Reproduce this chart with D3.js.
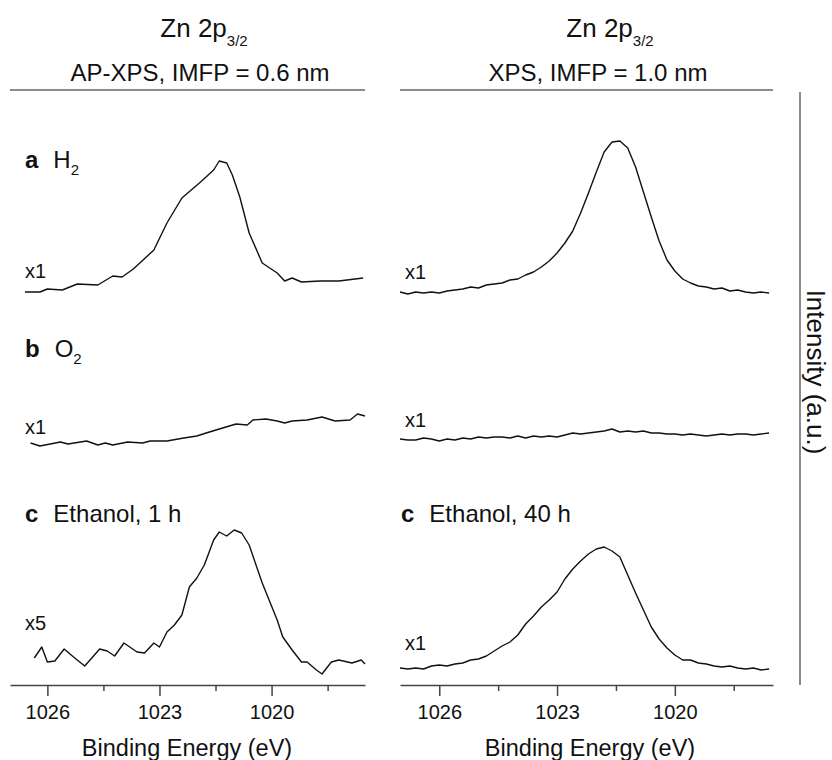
<!DOCTYPE html>
<html>
<head>
<meta charset="utf-8">
<script src="https://cdn.jsdelivr.net/npm/d3@7"></script>
<style>
  body { margin: 0; background: #fff; }
  text { font-family: "Liberation Sans", Arial, Helvetica, sans-serif; fill: #111; }
</style>
</head>
<body>
<div id="chart"></div>
<script>
// tick values (binding energy, eV)
var majorTicks = [1026, 1023, 1020];
var minorTicks = [1024.5, 1021.5, 1018.5];

// panel titles
var panelTitles = ["Zn 2p", "Zn 2p"];
var panelSubs = ["AP-XPS, IMFP = 0.6 nm", "XPS, IMFP = 1.0 nm"];
var rowLetters = ["a", "b", "c"];
var rowNamesLeft = ["H", "O", "Ethanol, 1 h"];
var rowNamesRight = ["", "", "Ethanol, 40 h"];
var scaleLeft = ["x1", "x1", "x5"];
var scaleRight = ["x1", "x1", "x1"];

// AP-XPS spectra (left) - energies and intensities (a.u., offset per row)
var apH2Energy = [1026.6, 1026.2, 1026.0, 1025.6, 1025.2, 1024.65, 1024.25, 1024.0, 1023.7, 1023.15, 1022.8, 1022.4, 1021.9, 1021.55, 1021.4, 1021.2, 1021.05, 1020.85, 1020.6, 1020.25, 1019.85, 1019.65, 1019.45, 1019.2, 1018.7, 1018.2, 1017.55];
var apH2Int = [393, 393, 396, 395, 401, 400, 409, 408, 416, 435, 462, 487, 503, 515, 524, 522, 510, 488, 452, 422, 412, 404, 407, 403, 404, 404, 407];

var apO2Energy = [1026.45, 1026.2, 1025.65, 1025.45, 1024.95, 1024.65, 1024.45, 1024.25, 1023.85, 1023.45, 1023.25, 1022.8, 1022.35, 1022.0, 1021.75, 1021.4, 1020.95, 1020.65, 1020.5, 1020.15, 1019.85, 1019.65, 1019.45, 1019.05, 1018.65, 1018.3, 1017.9, 1017.7, 1017.5];
var apO2Int = [242, 239, 243, 241, 244, 240, 242, 240, 243, 242, 244, 244, 247, 249, 252, 256, 261, 260, 265, 266, 264, 262, 264, 265, 268, 264, 265, 271, 269];

var apEtEnergy = [1026.35, 1026.15, 1026.0, 1025.8, 1025.55, 1025.3, 1025.0, 1024.6, 1024.4, 1024.2, 1023.95, 1023.6, 1023.4, 1023.15, 1023.0, 1022.8, 1022.6, 1022.4, 1022.2, 1022.0, 1021.8, 1021.55, 1021.4, 1021.2, 1021.0, 1020.8, 1020.6, 1020.25, 1019.85, 1019.7, 1019.45, 1019.2, 1019.05, 1018.8, 1018.65, 1018.4, 1018.2, 1017.85, 1017.6, 1017.5];
var apEtInt = [27, 38, 23, 24, 36, 28, 19, 36, 34, 29, 42, 33, 32, 42, 38, 53, 60, 70, 98, 107, 120, 145, 153, 149, 155, 152, 140, 102, 65, 48, 35, 23, 23, 15, 11, 23, 25, 22, 25, 21];

// XPS spectra (right), common energy grid
var xpsEnergy = [1027.0, 1026.8, 1026.6, 1026.4, 1026.2, 1026.0, 1025.8, 1025.6, 1025.4, 1025.2, 1025.0, 1024.8, 1024.6, 1024.4, 1024.2, 1024.0, 1023.8, 1023.6, 1023.4, 1023.2, 1023.0, 1022.8, 1022.6, 1022.4, 1022.2, 1022.0, 1021.8, 1021.6, 1021.4, 1021.2, 1021.0, 1020.8, 1020.6, 1020.4, 1020.2, 1020.0, 1019.8, 1019.6, 1019.4, 1019.2, 1019.0, 1018.8, 1018.6, 1018.4, 1018.2, 1018.0, 1017.8, 1017.6];
var xpsH2Int = [393, 391, 393, 392, 393, 392, 394, 395, 396, 398, 397, 400, 401, 402, 405, 406, 410, 413, 418, 424, 432, 442, 454, 472, 492, 513, 533, 543, 544, 537, 518, 493, 468, 444, 425, 414, 406, 402, 399, 398, 396, 397, 394, 395, 393, 392, 393, 392];
var xpsO2Int = [246, 245, 245, 247, 246, 244, 246, 245, 247, 246, 248, 247, 248, 248, 247, 249, 247, 249, 248, 249, 248, 250, 252, 251, 252, 253, 254, 256, 253, 254, 253, 254, 252, 252, 251, 251, 250, 251, 250, 249, 250, 251, 250, 251, 251, 250, 251, 252];
var xpsEtInt = [17, 16, 17, 16, 19, 20, 19, 21, 22, 25, 26, 29, 34, 39, 43, 50, 61, 69, 78, 85, 93, 106, 116, 124, 131, 136, 138, 134, 128, 110, 92, 75, 58, 46, 37, 30, 25, 25, 22, 21, 19, 18, 19, 17, 16, 17, 15, 16];

var width = 832, height = 760;
var axisY = 685, topY = 90;
var panels = [
  {x0: 10, x1: 365, titleX: 204, subX: 200, labX: 187,
   series: [[apH2Energy, apH2Int], [apO2Energy, apO2Int], [apEtEnergy, apEtInt]]},
  {x0: 400, x1: 773, titleX: 610, subX: 598, labX: 590,
   series: [[xpsEnergy, xpsH2Int], [xpsEnergy, xpsO2Int], [xpsEnergy, xpsEtInt]]}
];

var svg = d3.select("#chart")
  .append("svg")
    .attr("width", width)
    .attr("height", height);

var y = d3.scaleLinear()
  .domain([0, 595])
  .range([axisY, topY]);

panels.forEach(function(p, i) {
  var x = d3.scaleLinear()
    .domain([1027, 1017.5])
    .range([p.x0, p.x1]);

  // top rule
  svg.append("line")
    .attr("x1", p.x0).attr("x2", p.x1)
    .attr("y1", topY).attr("y2", topY)
    .attr("stroke", "#666").attr("stroke-width", 1.5);

  // title
  var t = svg.append("text")
    .attr("x", p.titleX).attr("y", 37)
    .attr("text-anchor", "middle")
    .style("font-size", "26px");
  t.append("tspan").text(panelTitles[i]);
  t.append("tspan").attr("dy", 9).style("font-size", "15px").text("3/2");

  svg.append("text")
    .attr("x", p.subX).attr("y", 81)
    .attr("text-anchor", "middle")
    .style("font-size", "24px")
    .text(panelSubs[i]);

  // axis with major + minor ticks
  var gx = svg.append("g")
    .attr("transform", "translate(0," + axisY + ")")
    .call(d3.axisBottom(x).tickValues(majorTicks).tickSize(11).tickSizeOuter(0).tickPadding(9)
      .tickFormat(d3.format("d")));
  gx.select(".domain").attr("stroke", "#444").attr("stroke-width", 1.5);
  gx.selectAll(".tick line").attr("stroke", "#444").attr("stroke-width", 1.5);
  gx.selectAll(".tick text").style("font-size", "20px").attr("fill", "#111");

  var gm = svg.append("g")
    .attr("transform", "translate(0," + axisY + ")")
    .call(d3.axisBottom(x).tickValues(minorTicks).tickSize(6).tickSizeOuter(0).tickFormat(""));
  gm.select(".domain").remove();
  gm.selectAll(".tick line").attr("stroke", "#444").attr("stroke-width", 1.5);

  svg.append("text")
    .attr("x", p.labX).attr("y", 756)
    .attr("text-anchor", "middle")
    .style("font-size", "23.5px")
    .text("Binding Energy (eV)");

  // spectra
  var line = d3.line()
    .x(function(d) { return x(d[0]); })
    .y(function(d) { return y(d[1]); });

  p.series.forEach(function(s) {
    var pts = s[0].map(function(e, k) { return [e, s[1][k]]; });
    svg.append("path")
      .datum(pts)
      .attr("fill", "none")
      .attr("stroke", "#111")
      .attr("stroke-width", 1.4)
      .attr("stroke-linejoin", "round")
      .attr("d", line);
  });
});

// row labels
var rowY = [168, 357, 522];
var scaleY = [278, 434, 630];
var scaleYR = [279, 427, 650];

rowLetters.forEach(function(l, i) {
  var t = svg.append("text")
    .attr("x", 25).attr("y", rowY[i])
    .style("font-size", "24px");
  t.append("tspan").style("font-weight", "bold").text(l);
  t.append("tspan").attr("dx", 15).text(rowNamesLeft[i]);
  if (i < 2) t.append("tspan").attr("dy", 7).style("font-size", "15px").text("2");

  svg.append("text")
    .attr("x", 25).attr("y", scaleY[i])
    .style("font-size", "20px")
    .text(scaleLeft[i]);

  svg.append("text")
    .attr("x", 405).attr("y", scaleYR[i])
    .style("font-size", "20px")
    .text(scaleRight[i]);

  if (rowNamesRight[i]) {
    var r = svg.append("text")
      .attr("x", 401).attr("y", rowY[i])
      .style("font-size", "24px");
    r.append("tspan").style("font-weight", "bold").text(l);
    r.append("tspan").attr("dx", 15).text(rowNamesRight[i]);
  }
});

// right intensity bar + label
svg.append("line")
  .attr("x1", 800).attr("x2", 800)
  .attr("y1", 92).attr("y2", axisY)
  .attr("stroke", "#666").attr("stroke-width", 1.5);

svg.append("text")
  .attr("transform", "translate(807,372) rotate(90)")
  .attr("text-anchor", "middle")
  .style("font-size", "26px")
  .text("Intensity (a.u.)");
</script>
</body>
</html>
